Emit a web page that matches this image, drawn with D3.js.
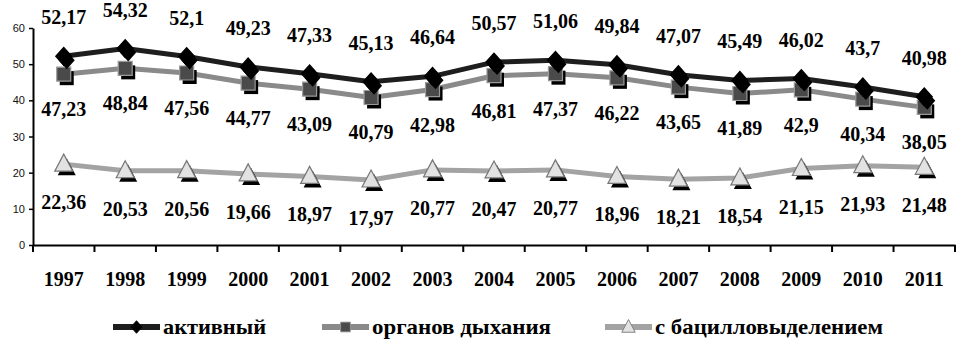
<!DOCTYPE html>
<html><head><meta charset="utf-8">
<script src="https://cdn.jsdelivr.net/npm/d3@7"></script>
<style>
body{margin:0;background:#fff}
svg{display:block}
.sf{font-family:"Liberation Serif","Times New Roman",Tinos,serif;font-weight:bold}
.ss{font-family:"Liberation Sans",Arial,sans-serif}
</style>
</head><body>
<svg id="c" width="963" height="347"></svg>
<script>
const years = ["1997","1998","1999","2000","2001","2002","2003","2004","2005","2006","2007","2008","2009","2010","2011"];
const active = [52.17,54.32,52.1,49.23,47.33,45.13,46.64,50.57,51.06,49.84,47.07,45.49,46.02,43.7,40.98];
const respiratory = [47.23,48.84,47.56,44.77,43.09,40.79,42.98,46.81,47.37,46.22,43.65,41.89,42.9,40.34,38.05];
const bacillary = [22.36,20.53,20.56,19.66,18.97,17.97,20.77,20.47,20.77,18.96,18.21,18.54,21.15,21.93,21.48];
const seriesNames = ["активный","органов дыхания","с бацилловыделением"];
const yTicks = [0,10,20,30,40,50,60];

const svg = d3.select("#c");
const x = d3.scaleBand().domain(years).range([33,955]).padding(0);
const y = d3.scaleLinear().domain([0,60]).range([245,28]);
const cx = d => x(d) + x.bandwidth()/2;
const fmt = v => String(v).replace(".", ",");

// y axis
const ya = svg.append("g").attr("transform","translate(33,0)")
  .call(d3.axisLeft(y).tickValues(yTicks).tickSize(4).tickSizeOuter(0).tickPadding(4));
ya.attr("font-family",null).attr("font-size",null);
ya.select(".domain").attr("stroke","#000").attr("stroke-width",2);
ya.selectAll(".tick line").attr("stroke","#000").attr("stroke-width",1.5);
ya.selectAll("text").attr("class","ss").attr("font-size",11).attr("fill","#111");

// x axis
const xa = svg.append("g").attr("transform","translate(0,245)")
  .call(d3.axisBottom(x).tickSize(0).tickSizeOuter(0).tickPadding(27));
xa.attr("font-family",null).attr("font-size",null);
xa.select(".domain").attr("stroke","#000").attr("stroke-width",2);
xa.selectAll("text").attr("class","sf").attr("font-size",20).attr("fill","#000");
svg.append("g").selectAll("line").data(years.concat(["end"])).join("line")
  .attr("x1", d => d==="end" ? x.range()[1] : x(d))
  .attr("x2", d => d==="end" ? x.range()[1] : x(d))
  .attr("y1",245).attr("y2",252).attr("stroke","#000").attr("stroke-width",2);

const series = [
  {name:seriesNames[0], vals:active, line:"#1e1e1e", shape:"diamond", fill:"#000", stroke:"#000", lab:-32},
  {name:seriesNames[1], vals:respiratory, line:"#8a8a8a", shape:"square", fill:"#4a4a4a", stroke:"#9a9a9a", lab:42},
  {name:seriesNames[2], vals:bacillary, line:"#a3a3a3", shape:"triangle", fill:"#e2e2e2", stroke:"#777", lab:45}
];

function shapePath(shape){
  if(shape==="diamond") return "M0,-9L8,0L0,9L-8,0Z";
  if(shape==="square") return "M-7,-7L7,-7L7,7L-7,7Z";
  return "M0,-10L9,7L-9,7Z";
}

const line = d3.line().x((v,i)=>cx(years[i])).y(v=>y(v));

[2,1,0].forEach(k=>{
  const s = series[k];
  const g = svg.append("g");
  g.append("path").datum(s.vals).attr("d",line).attr("fill","none")
    .attr("stroke",s.line).attr("stroke-width",5).attr("stroke-linejoin","round");
  const m = g.selectAll("g.m").data(s.vals).join("g")
    .attr("transform",(v,i)=>`translate(${cx(years[i])},${y(v)})`);
  m.append("path").attr("d",shapePath(s.shape)).attr("transform","translate(3,4)").attr("fill","#000");
  m.append("path").attr("d",shapePath(s.shape)).attr("fill",s.fill).attr("stroke",s.stroke).attr("stroke-width",1.2);
});

// data labels
series.forEach(s=>{
  svg.append("g").selectAll("text").data(s.vals).join("text")
    .attr("class","sf")
    .attr("x",(v,i)=>cx(years[i]))
    .attr("y",v=>y(v)+s.lab)
    .attr("text-anchor","middle")
    .attr("font-size",20).attr("fill","#000")
    .text(fmt);
});

// legend
const legendX = [113, 322, 605];
const legendW = [103, 179, 228];
const lg = svg.append("g");
series.forEach((s,k)=>{
  const g = lg.append("g").attr("transform",`translate(${legendX[k]},327)`);
  g.append("line").attr("x1",0).attr("x2",47).attr("y1",0).attr("y2",0).attr("stroke",s.line).attr("stroke-width",6);
  const sc = s.shape==="triangle" ? 0.75 : 0.7;
  g.append("path").attr("d",shapePath(s.shape)).attr("transform",`translate(23.5,0) scale(${sc})`)
    .attr("fill",s.fill).attr("stroke",s.stroke).attr("stroke-width",1.2);
  g.append("text").attr("class","sf").attr("x",50).attr("y",7)
    .attr("font-size",21).attr("textLength",legendW[k]).attr("lengthAdjust","spacingAndGlyphs").text(s.name);
});
</script>
</body></html>
